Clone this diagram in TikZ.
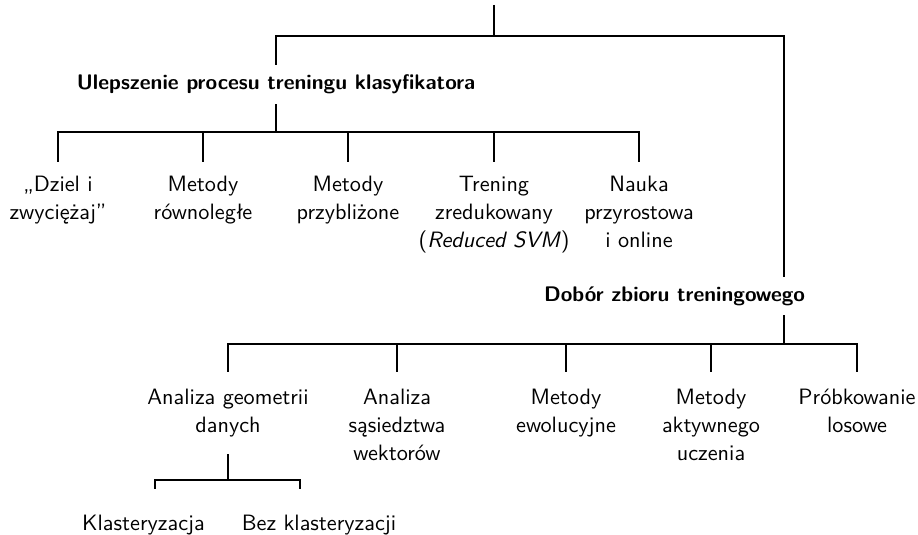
\documentclass[tikz,border=0pt]{standalone}
\usepackage{fontspec}
\begin{document}
\begin{tikzpicture}[x=0.45pt,y=-0.45pt,
  font=\sffamily\fontsize{10pt}{12.7pt}\selectfont,
  link/.style={line width=0.7pt},
  group/.style={font=\sffamily\bfseries\fontsize{9.5pt}{12pt}\selectfont,
    inner xsep=0pt, inner ysep=4.2pt, anchor=base},
  method/.style={align=center, anchor=north, inner xsep=0pt, inner ysep=6.1pt},
  technique/.style={method, inner ysep=7.5pt},
  variant/.style={anchor=north, inner xsep=0pt, inner ysep=11.5pt}]
\useasboundingbox (0,0) rectangle (918,534);

% fork points of the tree
\coordinate (root) at (494,5);
\coordinate (f0) at (494,36);
\coordinate (trunk) at (784,36);
\coordinate (uf) at (276,132);
\coordinate (df) at (784,344);
\coordinate (gf) at (228,480);
\coordinate (k1) at (155,480);
\coordinate (k2) at (300,480);

% the two main groups
\node[group] (ulep) at (276,90) {Ulepszenie procesu treningu klasyfikatora};
\node[group] (dobor) at (674.5,301) {Dobór zbioru treningowego};

% methods improving the training process
\node[method] (dziel) at (58,162) {„Dziel i\\zwyciężaj”};
\node[method] (rown) at (203,162) {Metody\\równoległe};
\node[method] (przybl) at (348,162) {Metody\\przybliżone};
\node[method] (red) at (494,162) {Trening\\zredukowany\\(\textit{Reduced SVM})};
\node[method] (przyr) at (639,162) {Nauka\\przyrostowa\\i online};

% training set selection techniques
\node[technique] (geo) at (228,372) {Analiza geometrii\\danych};
\node[technique] (sasiad) at (397,372) {Analiza\\sąsiedztwa\\wektorów};
\node[technique] (ewol) at (566,372) {Metody\\ewolucyjne};
\node[technique] (aktyw) at (711,372) {Metody\\aktywnego\\uczenia};
\node[technique] (losowe) at (857,372) {Próbkowanie\\losowe};

% data geometry variants
\node[variant] (klas) at (143.5,489) {Klasteryzacja};
\node[variant] (bez) at (319,489) {Bez klasteryzacji};

% connectors
\draw[link] (root) -- (f0);
\draw[link] (f0) -| (ulep.north);
\draw[link] (f0) -- (trunk) -- (dobor.north -| trunk);
\draw[link] (ulep.south) -- (uf);
\foreach \c in {dziel,rown,przybl,red,przyr}
  \draw[link] (uf) -| (\c.north);
\draw[link] (dobor.south -| trunk) -- (df);
\foreach \c in {geo,sasiad,ewol,aktyw,losowe}
  \draw[link] (df) -| (\c.north);
\draw[link] (geo.south) -- (gf);
\draw[link] (gf) -- (k1) -- (k1 |- klas.north);
\draw[link] (gf) -- (k2) -- (k2 |- bez.north);
\end{tikzpicture}
\end{document}
